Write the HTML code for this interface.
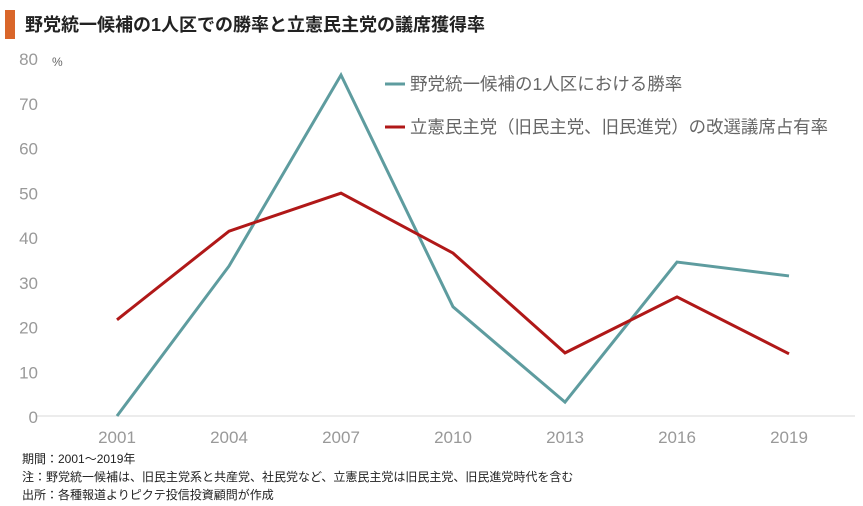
<!DOCTYPE html>
<html><head><meta charset="utf-8"><style>
body{margin:0;background:#fff;}
svg{display:block;font-family:"Liberation Sans","Noto Sans CJK JP",sans-serif;}
</style></head><body>
<svg width="863" height="506">
<rect x="5" y="10" width="10" height="29" fill="#d9662a"/>
<text x="25" y="31" font-size="18" font-weight="bold" fill="#222">野党統一候補の1人区での勝率と立憲民主党の議席獲得率</text>
<g id="axes"></g>
<g id="series"></g>
<g>
<line x1="385" y1="84" x2="405" y2="84" stroke="#5e9c9f" stroke-width="3"/>
<text x="410" y="90" font-size="17.5" fill="#666">野党統一候補の1人区における勝率</text>
<line x1="385" y1="127" x2="405" y2="127" stroke="#b01818" stroke-width="3"/>
<text x="410" y="133" font-size="17.5" fill="#666" textLength="418" lengthAdjust="spacingAndGlyphs">立憲民主党（旧民主党、旧民進党）の改選議席占有率</text>
</g>
<g font-size="12" fill="#222">
<text x="22" y="463">期間：2001～2019年</text>
<text x="22" y="481">注：野党統一候補は、旧民主党系と共産党、社民党など、立憲民主党は旧民主党、旧民進党時代を含む</text>
<text x="22" y="499">出所：各種報道よりピクテ投信投資顧問が作成</text>
</g>
</svg>
<script>
const years=["2001","2004","2007","2010","2013","2016","2019"];
const winRate=[0,33.5,76.2,24.4,3.1,34.4,31.3];
const seatRate=[21.5,41.3,49.8,36.4,14.1,26.6,13.9];
const yTicks=[0,10,20,30,40,50,60,70,80];
const NS="http://www.w3.org/2000/svg";
function xPos(i){return 117+i*112;}
function yPos(v){return 416-v*4.475;}
function mk(tag,attrs,parent){const e=document.createElementNS(NS,tag);for(const k in attrs)e.setAttribute(k,attrs[k]);parent.appendChild(e);return e;}
const axes=document.getElementById('axes');
const base=mk('line',{x1:37,x2:855,y1:yPos(0),y2:yPos(0),stroke:'#d9d9d9','stroke-width':1},axes);


yTicks.forEach(t=>{const e=mk('text',{x:38,y:yPos(t)+7,'font-size':17,fill:'#999','text-anchor':'end'},axes);e.textContent=t;

});
const unit=mk('text',{x:52,y:66,'font-size':12,fill:'#666'},axes);unit.textContent='%';


years.forEach((y,i)=>{const e=mk('text',{x:xPos(i),y:443,'font-size':17,fill:'#999','text-anchor':'middle'},axes);e.textContent=y;

});
const ser=document.getElementById('series');
const l1=mk('polyline',{points:winRate.map((v,i)=>xPos(i)+','+yPos(v)).join(' '),fill:'none',stroke:'#5e9c9f','stroke-width':3},ser);


const l2=mk('polyline',{points:seatRate.map((v,i)=>xPos(i)+','+yPos(v)).join(' '),fill:'none',stroke:'#b01818','stroke-width':3},ser);


</script>
</body></html>
